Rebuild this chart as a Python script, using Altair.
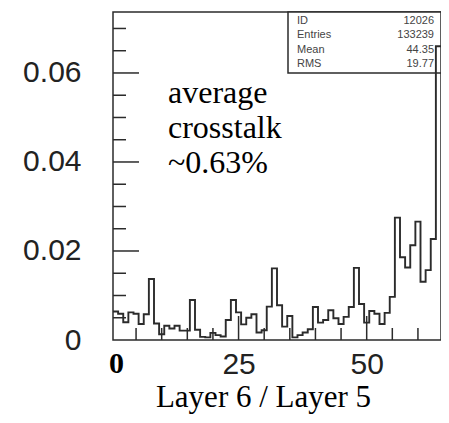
import altair as alt
import pandas as pd

# ---- data ----
bin_centers = list(range(1, 65))
ratio = [0.0064, 0.0059, 0.0040, 0.0062, 0.0059, 0.0036, 0.0058, 0.0137, 0.0037, 0.0013,
         0.0032, 0.0026, 0.0032, 0.0021, 0.0021, 0.0090, 0.0023, 0.0007, 0.0006, 0.0016,
         0.0011, 0.0008, 0.0045, 0.0090, 0.0062, 0.0035, 0.0050, 0.0058, 0.0017, 0.0022,
         0.0075, 0.0161, 0.0078, 0.0030, 0.0054, 0.0006, 0.0011, 0.0017, 0.0024, 0.0074,
         0.0039, 0.0045, 0.0067, 0.0049, 0.0036, 0.0052, 0.0074, 0.0162, 0.0081, 0.0039,
         0.0065, 0.0059, 0.0036, 0.0061, 0.0097, 0.0275, 0.0186, 0.0163, 0.0213, 0.0266,
         0.0131, 0.0157, 0.0227, 0.0660]

stat_names = ["ID", "Entries", "Mean", "RMS"]
stat_values = ["12026", "133239", "44.35", "19.77"]

annotation_lines = ["average", "crosstalk", "~0.63%"]
x_title = "Layer 6 / Layer 5"
y_label_values = [0, 0.02, 0.04, 0.06]
x_label_values = [25, 50]
y_major_ticks = [0.02, 0.04, 0.06]
y_minor_ticks = [0.005, 0.01, 0.015, 0.025, 0.03, 0.035, 0.045, 0.05, 0.055, 0.065, 0.07]
x_major_ticks = [25, 50]
x_minor_ticks = [5, 10, 15, 20, 30, 35, 40, 45, 55, 60]
x_domain = [0.5, 64.5]
y_domain = [0, 0.0737]

W, H = 328, 328
INK = "#2b2b2b"

# step-after histogram outline: left bin edges + final right edge
edges = [c - 0.5 for c in bin_centers] + [bin_centers[-1] + 0.5]
hist_df = pd.DataFrame({"edge": edges, "ratio": ratio + [ratio[-1]]})

xscale = alt.Scale(domain=x_domain, nice=False, zero=False)
yscale = alt.Scale(domain=y_domain, nice=False, zero=False)

xaxis = alt.Axis(
    values=x_label_values, ticks=False, domain=False, grid=False,
    labelFont="Liberation Sans", labelFontSize=30, labelColor="#222",
    labelPadding=9, title=x_title, titleFont="Liberation Serif",
    titleFontSize=31, titleFontWeight="normal", titleColor="#000",
    titleX=150, titleY=66, titleBaseline="alphabetic", titleAlign="center")
yaxis = alt.Axis(
    values=y_label_values, format="~g", ticks=False, domain=False, grid=False,
    labelFont="Liberation Sans", labelFontSize=30, labelColor="#222",
    labelPadding=32, title=None)

hist = alt.Chart(hist_df).mark_line(
    interpolate="step-after", color=INK, strokeWidth=1.9
).encode(
    x=alt.X("edge:Q", scale=xscale, axis=xaxis),
    y=alt.Y("ratio:Q", scale=yscale, axis=yaxis),
)

def yticks(vals, length):
    return alt.Chart(pd.DataFrame({"ratio": vals})).mark_rule(color=INK, strokeWidth=1.5).encode(
        y=alt.Y("ratio:Q", scale=yscale, axis=yaxis),
        x=alt.value(0), x2=alt.value(length))

def xticks(vals, length):
    return alt.Chart(pd.DataFrame({"edge": vals})).mark_rule(color=INK, strokeWidth=1.5).encode(
        x=alt.X("edge:Q", scale=xscale, axis=xaxis),
        y=alt.value(H), y2=alt.value(H - length))

box = alt.Chart(pd.DataFrame({"k": [0]})).mark_rect(
    fill="white", stroke=INK, strokeWidth=1.5
).encode(x=alt.value(175), x2=alt.value(W), y=alt.value(0), y2=alt.value(61))

stats_lbl = alt.Chart(pd.DataFrame({"t": ["\n".join(stat_names)]})).mark_text(
    align="left", baseline="alphabetic", lineBreak="\n", lineHeight=14.3,
    font="Liberation Sans", fontSize=11, color="#444"
).encode(text="t:N", x=alt.value(184), y=alt.value(12))

stats_val = alt.Chart(pd.DataFrame({"t": ["\n".join(stat_values)]})).mark_text(
    align="right", baseline="alphabetic", lineBreak="\n", lineHeight=14.3,
    font="Liberation Sans", fontSize=11, color="#444"
).encode(text="t:N", x=alt.value(321), y=alt.value(12))

annot = alt.Chart(pd.DataFrame({"t": ["\n".join(annotation_lines)]})).mark_text(
    align="left", baseline="alphabetic", lineBreak="\n", lineHeight=35,
    font="Liberation Serif", fontSize=32, color="#000"
).encode(text="t:N", x=alt.value(55), y=alt.value(91))

zero_lbl = alt.Chart(pd.DataFrame({"t": ["0"]})).mark_text(
    align="center", baseline="alphabetic", font="Liberation Serif",
    fontSize=30, fontWeight="bold", color="#000"
).encode(text="t:N", x=alt.value(3.5), y=alt.value(361))

chart = alt.layer(
    box, stats_lbl, stats_val,
    yticks(y_minor_ticks, 13), yticks(y_major_ticks, 26),
    xticks(x_minor_ticks, 12), xticks(x_major_ticks, 24),
    hist, annot, zero_lbl
).properties(
    width=W, height=H,
    padding={"left": 105, "top": 4, "right": 0, "bottom": 75},
    autosize=alt.AutoSizeParams(type="none"),
).configure_view(stroke=INK, strokeWidth=1.5)

chart.save("out.html", embed_options={"renderer": "svg", "actions": False})
